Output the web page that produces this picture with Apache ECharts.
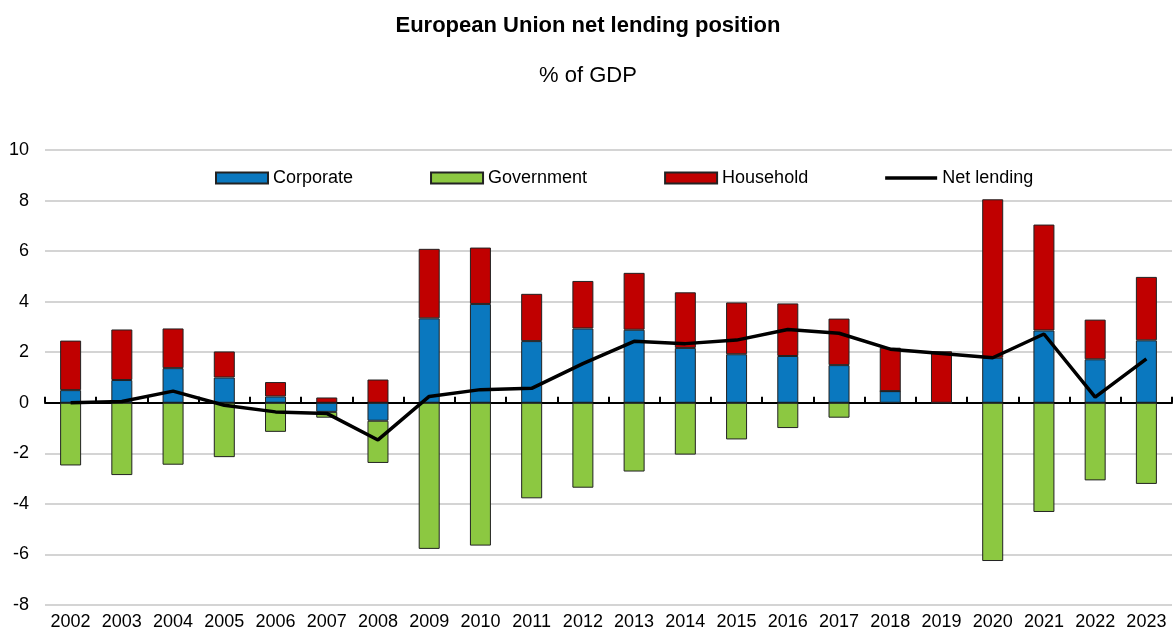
<!DOCTYPE html>
<html>
<head>
<meta charset="utf-8">
<script src="https://cdn.jsdelivr.net/npm/echarts@6/dist/echarts.min.js"></script>
<style>
  html, body { margin: 0; padding: 0; background: #fff; }
  #chart { width: 1176px; height: 635px; }
</style>
</head>
<body>
<div id="chart"></div>
<script>
const years = ['2002','2003','2004','2005','2006','2007','2008','2009','2010','2011','2012',
  '2013','2014','2015','2016','2017','2018','2019','2020','2021','2022','2023'];
const corporate = [0.5, 0.9, 1.37, 1.0, 0.25, -0.36, -0.71, 3.34, 3.91, 2.44, 2.94,
  2.89, 2.17, 1.92, 1.85, 1.49, 0.46, 0.0, 1.78, 2.86, 1.72, 2.47];
const government = [-2.48, -2.86, -2.45, -2.15, -1.15, -0.23, -1.67, -5.78, -5.65, -3.78, -3.36,
  -2.72, -2.05, -1.45, -1.0, -0.59, 0.0, 0.0, -6.26, -4.32, -3.07, -3.21];
const household = [1.96, 2.0, 1.57, 1.03, 0.57, 0.21, 0.92, 2.75, 2.23, 1.87, 1.88,
  2.25, 2.2, 2.05, 2.08, 1.84, 1.72, 2.04, 6.27, 4.19, 1.57, 2.51];
const netLending = [0.0, 0.05, 0.46, -0.1, -0.36, -0.42, -1.47, 0.25, 0.52, 0.57, 1.55,
  2.43, 2.34, 2.48, 2.9, 2.75, 2.12, 1.95, 1.78, 2.72, 0.22, 1.74];
const yTicks = { min: -8, max: 10, interval: 2 };

const font = "'Liberation Sans', Arial, sans-serif";
const border = { borderColor: '#222', borderWidth: 1 };

const chart = echarts.init(document.getElementById('chart'));
chart.setOption({
  animation: false,
  backgroundColor: '#fff',
  title: [
    { text: 'European Union net lending position', left: 'center', top: 10,
      textStyle: { fontFamily: font, fontWeight: 'bold', fontSize: 22, color: '#000' } },
    { text: '% of GDP', left: 'center', top: 60,
      textStyle: { fontFamily: font, fontWeight: 'normal', fontSize: 22, color: '#000' } }
  ],
  legend: {
    left: 215, top: 169, padding: 0, itemGap: 77, itemWidth: 52, itemHeight: 11,
    textStyle: { fontFamily: font, fontSize: 18, color: '#000' },
    data: [
      { name: 'Corporate', icon: 'rect' },
      { name: 'Government', icon: 'rect' },
      { name: 'Household', icon: 'rect' },
      { name: 'Net lending', icon: 'path://M0,0H52V3.5H0Z' }
    ]
  },
  grid: { left: 45, right: 4, top: 150, bottom: 30 },
  xAxis: [
    {
      type: 'category', data: years, position: 'bottom',
      axisLine: { show: false, onZero: false }, axisTick: { show: false },
      axisLabel: { fontFamily: font, fontSize: 18, color: '#000', margin: 8, interval: 0 }
    },
    {
      type: 'category', data: years, position: 'top',
      axisLine: { onZero: true, lineStyle: { color: '#000', width: 2 } },
      axisTick: { show: true, inside: false, length: 6, lineStyle: { color: '#000', width: 2 } },
      axisLabel: { show: false }
    }
  ],
  yAxis: {
    type: 'value', min: yTicks.min, max: yTicks.max, interval: yTicks.interval,
    axisLine: { show: false }, axisTick: { show: false },
    axisLabel: { fontFamily: font, fontSize: 18, color: '#000', margin: 16 },
    splitLine: { lineStyle: { color: '#d4d4d4', width: 2 } }
  },
  series: [
    { name: 'Corporate', type: 'bar', stack: 'total', data: corporate, barWidth: '41%',
      itemStyle: Object.assign({ color: '#0a78bf' }, border) },
    { name: 'Government', type: 'bar', stack: 'total', data: government, barWidth: '41%',
      itemStyle: Object.assign({ color: '#8cc841' }, border) },
    { name: 'Household', type: 'bar', stack: 'total', data: household, barWidth: '41%',
      itemStyle: Object.assign({ color: '#c00000' }, border) },
    { name: 'Net lending', type: 'line', data: netLending, symbol: 'none', z: 5,
      lineStyle: { color: '#000', width: 3.5 }, itemStyle: { color: '#000', borderWidth: 0 } }
  ]
});
</script>
</body>
</html>
